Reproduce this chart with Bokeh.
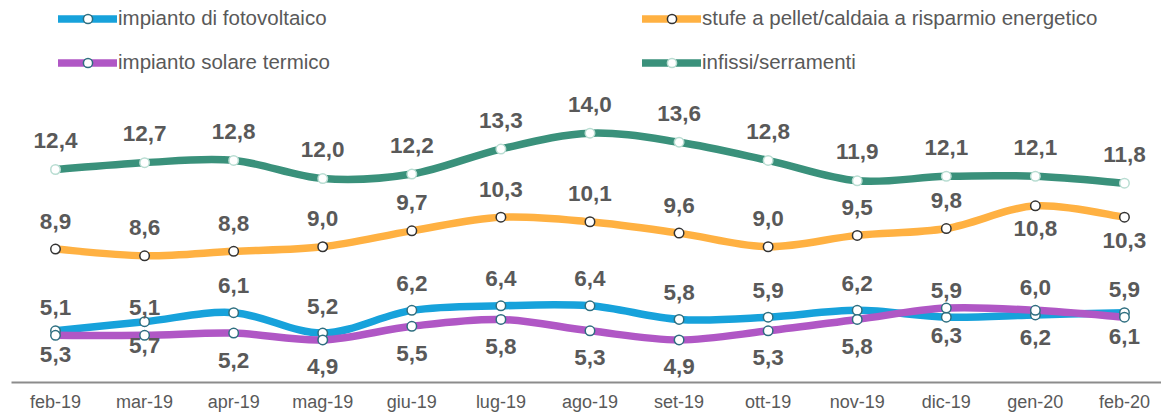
from bokeh.plotting import figure
from bokeh.models import ColumnDataSource, Range1d, Legend, LegendItem
from bokeh.core.properties import value
from bokeh.embed import file_html
from bokeh.resources import INLINE

# ---- data ----
months = ["feb-19", "mar-19", "apr-19", "mag-19", "giu-19", "lug-19", "ago-19",
          "set-19", "ott-19", "nov-19", "dic-19", "gen-20", "feb-20"]
fotovoltaico = [5.3, 5.7, 6.1, 5.2, 6.2, 6.4, 6.4, 5.8, 5.9, 6.2, 5.9, 6.0, 6.1]
solare_termico = [5.1, 5.1, 5.2, 4.9, 5.5, 5.8, 5.3, 4.9, 5.3, 5.8, 6.3, 6.2, 5.9]
stufe_pellet = [8.9, 8.6, 8.8, 9.0, 9.7, 10.3, 10.1, 9.6, 9.0, 9.5, 9.8, 10.8, 10.3]
infissi = [12.4, 12.7, 12.8, 12.0, 12.2, 13.3, 14.0, 13.6, 12.8, 11.9, 12.1, 12.1, 11.8]
names = ["impianto di fotovoltaico", "impianto solare termico",
         "stufe a pellet/caldaia a risparmio energetico", "infissi/serramenti"]

# ---- style ----
FONT = "Liberation Sans"
TXT = "#595959"
colors = {"foto": "#17a2db", "sol": "#b057c5", "stufe": "#ffb142", "inf": "#3a917b"}
ring = {"foto": "#2f6f80", "sol": "#2f6f80", "stufe": "#333333", "inf": "#b9ddd2"}

xs = list(range(len(months)))

p = figure(width=1161, height=414, output_backend="svg", toolbar_location=None,
           x_range=Range1d(-0.494, 12.416), y_range=Range1d(3.025, 19.838),
           min_border_left=11, min_border_right=0, min_border_top=0, min_border_bottom=31)
p.outline_line_color = None
p.grid.visible = False
p.yaxis.visible = False
p.background_fill_color = "white"
p.border_fill_color = "white"

ax = p.xaxis[0]
ax.ticker = xs
ax.major_label_overrides = {i: m for i, m in enumerate(months)}
ax.major_tick_line_color = None
ax.minor_tick_line_color = None
ax.major_tick_out = 0
ax.major_tick_in = 0
ax.minor_tick_out = 0
ax.minor_tick_in = 0
ax.axis_label_standoff = 0
ax.axis_line_color = "#8c8c8c"
ax.axis_line_width = 2
ax.major_label_text_font = FONT
ax.major_label_text_font_size = "18px"
ax.major_label_text_color = TXT
ax.major_label_standoff = 9


def bezier_segments(x, y):
    n = len(x)
    seg = dict(x0=[], y0=[], x1=[], y1=[], cx0=[], cy0=[], cx1=[], cy1=[])
    for i in range(n - 1):
        xp, yp = (x[i - 1], y[i - 1]) if i > 0 else (x[i], y[i])
        xn, yn = (x[i + 2], y[i + 2]) if i + 2 < n else (x[i + 1], y[i + 1])
        seg["x0"].append(x[i]); seg["y0"].append(y[i])
        seg["x1"].append(x[i + 1]); seg["y1"].append(y[i + 1])
        seg["cx0"].append(x[i] + (x[i + 1] - xp) / 6.0)
        seg["cy0"].append(y[i] + (y[i + 1] - yp) / 6.0)
        seg["cx1"].append(x[i + 1] - (xn - x[i]) / 6.0)
        seg["cy1"].append(y[i + 1] - (yn - y[i]) / 6.0)
    return seg


def fmt(v):
    return f"{v:.1f}".replace(".", ",")


series = [("foto", fotovoltaico, names[0]), ("sol", solare_termico, names[1]),
          ("stufe", stufe_pellet, names[2]), ("inf", infissi, names[3])]

flipped = {0, 1, 12}          # points where blue/purple labels swap sides
orange_below = {11, 12}       # orange labels drawn under the line


def offsets(key):
    out = []
    for i in xs:
        if key == "inf":
            out.append(-29)
        elif key == "stufe":
            out.append(23 if i in orange_below else -28)
        elif key == "foto":
            out.append(24 if i in flipped else -27)
        else:
            out.append(-28 if i in flipped else 27)
    return out


curves = {}
for key, vals, nm in series:
    seg = bezier_segments(xs, vals)
    curves[key] = p.bezier(x0="x0", y0="y0", x1="x1", y1="y1", cx0="cx0", cy0="cy0",
                           cx1="cx1", cy1="cy1", source=ColumnDataSource(seg),
                           line_color=colors[key], line_width=7.5, line_cap="round")
legend_items = {}
for key, vals, nm in series:
    src = ColumnDataSource(dict(x=xs, y=vals, t=[fmt(v) for v in vals], yo=offsets(key)))
    sc = p.scatter("x", "y", source=src, size=9.5, fill_color="white",
                   line_color=ring[key], line_width=1.5)
    p.text("x", "y", text="t", source=src, y_offset="yo", text_align="center",
           text_baseline="middle", text_font=value(FONT), text_font_size="22.5px",
           text_font_style="bold", text_color=TXT)
    legend_items[key] = LegendItem(label=nm, renderers=[curves[key], sc])


def make_legend(items, loc):
    lg = Legend(items=items, location=loc, orientation="vertical",
                glyph_width=59, glyph_height=23, label_height=23, spacing=20,
                padding=0, margin=0, label_standoff=1,
                label_text_font=FONT, label_text_font_size="20.5px", label_text_color=TXT,
                border_line_color=None, background_fill_alpha=0)
    p.add_layout(lg, "center")


make_legend([legend_items["foto"], legend_items["sol"]], (47, 308))
make_legend([legend_items["stufe"], legend_items["inf"]], (631, 308))

open("out.html", "w").write(file_html(p, INLINE))
